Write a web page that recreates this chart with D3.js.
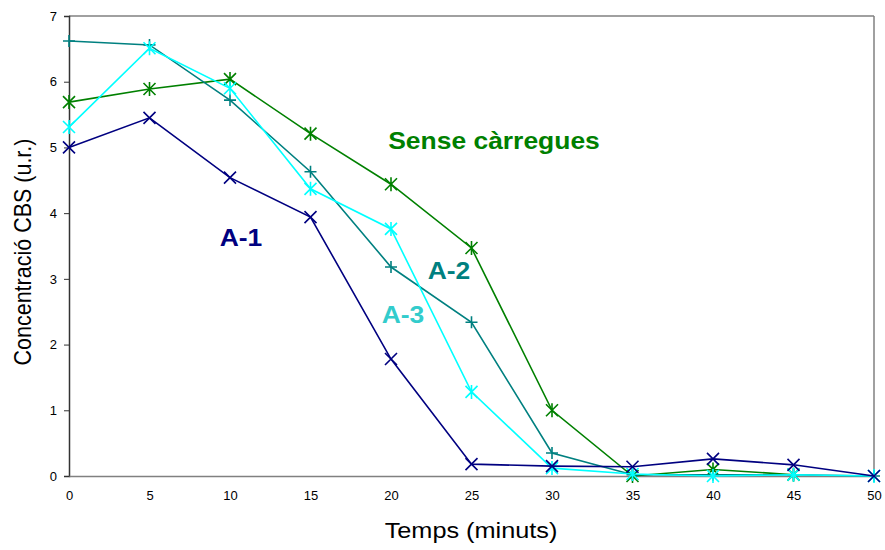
<!DOCTYPE html>
<html><head><meta charset="utf-8">
<script src="https://cdn.jsdelivr.net/npm/d3@7"></script>
<style>body{margin:0;background:#fff;}svg{display:block;font-family:"Liberation Sans",Arial,sans-serif;}</style>
</head><body>
<svg id="c" width="885" height="550"></svg>
<script>
const times = [0,5,10,15,20,25,30,35,40,45,50];
const a1 = [5.0,5.45,4.54,3.94,1.78,0.18,0.15,0.14,0.26,0.17,0.0];
const a2 = [6.62,6.56,5.72,4.63,3.18,2.34,0.35,0.02,0.02,0.02,0.0];
const a3 = [5.31,6.51,5.9,4.37,3.76,1.28,0.12,0.03,0.0,0.02,0.0];
const sense = [5.69,5.89,6.04,5.21,4.44,3.47,1.0,0.0,0.1,0.02];
const yTicks = [0,1,2,3,4,5,6,7];
const xTicks = [0,5,10,15,20,25,30,35,40,45,50];

const svg = d3.select("#c");
const L=69,R=874,T=16,B=476;
const x = d3.scaleLinear().domain([0,50]).range([L,R]);
const y = d3.scaleLinear().domain([0,7]).range([B,T]);

// frame
svg.append("line").attr("x1",L).attr("x2",R).attr("y1",T).attr("y2",T).attr("stroke","#808080").attr("stroke-width",1.5);
svg.append("line").attr("x1",R).attr("x2",R).attr("y1",T).attr("y2",B).attr("stroke","#808080").attr("stroke-width",1.5);

const yAxis = d3.axisLeft(y).tickValues(yTicks).tickSize(5).tickPadding(7).tickFormat(d3.format("d"));
const gy = svg.append("g").attr("transform",`translate(${L},0)`).call(yAxis);
gy.select(".domain").attr("stroke","#333").attr("stroke-width",1.5);
gy.selectAll(".tick line").attr("stroke","#333");
gy.selectAll("text").attr("font-size",13).attr("fill","#000").attr("font-family","Liberation Sans, Arial, sans-serif");

const xAxis = d3.axisBottom(x).tickValues(xTicks).tickSize(0).tickPadding(15);
const gx = svg.append("g").attr("transform",`translate(0,${B})`).call(xAxis);
gx.select(".domain").attr("stroke","#808080").attr("stroke-width",1.5);
gx.selectAll("text").attr("font-size",13).attr("fill","#000").attr("font-family","Liberation Sans, Arial, sans-serif");

const series = [
  {name:"Sense càrregues", vals:sense, color:"#008000", marker:"star"},
  {name:"A-2", vals:a2, color:"#008080", marker:"plus"},
  {name:"A-3", vals:a3, color:"#00FFFF", marker:"star"},
  {name:"A-1", vals:a1, color:"#000080", marker:"x"}
];
const line = d3.line().x((d,i)=>x(times[i])).y(d=>y(d));
const s=6;
series.forEach(ser=>{
  svg.append("path").attr("d",line(ser.vals)).attr("fill","none").attr("stroke",ser.color).attr("stroke-width",1.6);
  const g = svg.append("g");
  ser.vals.forEach((v,i)=>{
    const cx=x(times[i]), cy=y(v);
    let p="";
    if(ser.marker==="x") p=`M${cx-s},${cy-s}L${cx+s},${cy+s}M${cx-s},${cy+s}L${cx+s},${cy-s}`;
    else if(ser.marker==="plus") p=`M${cx-s},${cy}L${cx+s},${cy}M${cx},${cy-s}L${cx},${cy+s}`;
    else p=`M${cx-s},${cy-s}L${cx+s},${cy+s}M${cx-s},${cy+s}L${cx+s},${cy-s}M${cx},${cy-s-1}L${cx},${cy+s+1}`;
    g.append("path").attr("d",p).attr("stroke",ser.color).attr("stroke-width",1.6).attr("fill","none");
  });
});

const labels = [
  {t:"A-1", x:241, y:246, c:"#000080"},
  {t:"A-2", x:449, y:279, c:"#008080"},
  {t:"A-3", x:403, y:323, c:"#33CCCC"},
  {t:"Sense càrregues", x:494, y:149, c:"#008000"}
];
svg.selectAll("text.lab").data(labels).enter().append("text").attr("class","lab")
  .attr("transform",d=>`translate(${d.x},${d.y}) scale(1.15,1)`).attr("text-anchor","middle").attr("font-weight","bold")
  .attr("font-size",23).attr("fill",d=>d.c).text(d=>d.t);

svg.append("text").attr("transform","translate(471,538) scale(1.15,1)").attr("text-anchor","middle").attr("font-size",22).text("Temps (minuts)");
svg.append("text").attr("transform","translate(31,252) scale(1.12,1) rotate(-90)").attr("text-anchor","middle").attr("font-size",21.5).text("Concentració CBS (u.r.)");
</script>
</body></html>
